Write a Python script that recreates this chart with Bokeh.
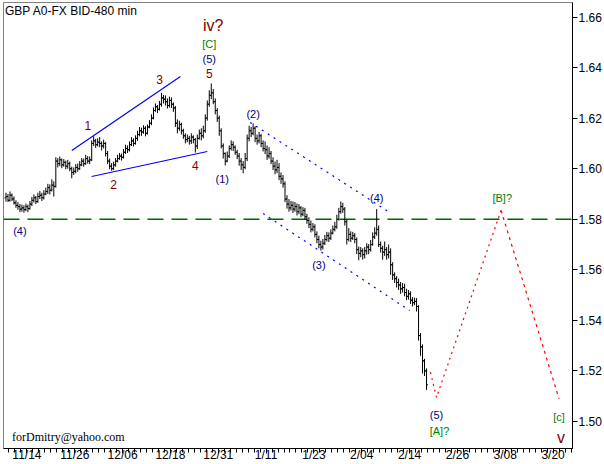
from bokeh.plotting import figure
from bokeh.models import Range1d, FixedTicker, Label, NumeralTickFormatter
from bokeh.embed import file_html
from bokeh.resources import INLINE

title_text = "GBP A0-FX BID-480 min"
credit_text = "forDmitry@yahoo.com"

# 480-minute OHLC bars (3 bars per trading day)
first_open = 1.5885
first_bar_day = -3.5
bars_per_day = 3

bar_close = [
    1.5890, 1.5875, 1.5895, 1.5880, 1.5865, 1.5855, 1.5850, 1.5840, 1.5845, 1.5838,
    1.5850, 1.5842, 1.5860, 1.5875, 1.5885, 1.5870, 1.5890, 1.5895, 1.5885, 1.5900,
    1.5910, 1.5925, 1.5915, 1.5935, 1.5930, 1.6030, 1.6020, 1.6035, 1.6015, 1.6025,
    1.6010, 1.6020, 1.6000, 1.5985, 1.5990, 1.6005, 1.6000, 1.6015, 1.6030, 1.6020,
    1.6040, 1.6030, 1.6035, 1.6100, 1.6110, 1.6095, 1.6105, 1.6100, 1.6090, 1.6100,
    1.6060, 1.6030, 1.6010, 1.6000, 1.6015, 1.6030, 1.6040, 1.6050, 1.6045, 1.6065,
    1.6080, 1.6075, 1.6095, 1.6110, 1.6100, 1.6120, 1.6135, 1.6150, 1.6145, 1.6160,
    1.6140, 1.6165, 1.6180, 1.6200, 1.6230, 1.6245, 1.6235, 1.6255, 1.6280, 1.6275,
    1.6265, 1.6250, 1.6270, 1.6255, 1.6240, 1.6180, 1.6160, 1.6175, 1.6150, 1.6130,
    1.6115, 1.6120, 1.6110, 1.6125, 1.6115, 1.6090, 1.6120, 1.6140, 1.6130, 1.6150,
    1.6200, 1.6255, 1.6290, 1.6300, 1.6265, 1.6230, 1.6200, 1.6150, 1.6090, 1.6060,
    1.6030, 1.6050, 1.6080, 1.6095, 1.6085, 1.6065, 1.6050, 1.6030, 1.6015, 1.6005,
    1.6040, 1.6120, 1.6150, 1.6140, 1.6160, 1.6120, 1.6110, 1.6130, 1.6100, 1.6080,
    1.6075, 1.6050, 1.6060, 1.6030, 1.6010, 1.5995, 1.6005, 1.5970, 1.5960, 1.5940,
    1.5880, 1.5860, 1.5845, 1.5855, 1.5840, 1.5850, 1.5830, 1.5845, 1.5820, 1.5835,
    1.5810, 1.5795, 1.5780, 1.5760, 1.5770, 1.5740, 1.5720, 1.5700, 1.5690, 1.5705,
    1.5720, 1.5735, 1.5725, 1.5745, 1.5760, 1.5770, 1.5800, 1.5830, 1.5850, 1.5840,
    1.5790, 1.5720, 1.5740, 1.5725, 1.5735, 1.5720, 1.5680, 1.5665, 1.5675, 1.5660,
    1.5675, 1.5690, 1.5680, 1.5700, 1.5730, 1.5745, 1.5760, 1.5700, 1.5685, 1.5670,
    1.5680, 1.5660, 1.5670, 1.5620, 1.5580, 1.5565, 1.5550, 1.5540, 1.5525, 1.5530,
    1.5510, 1.5495, 1.5505, 1.5480, 1.5470, 1.5475, 1.5455, 1.5340, 1.5295, 1.5240,
    1.5200, 1.5145,
]
bar_high = [
    1.5905, 1.5900, 1.5910, 1.5902, 1.5890, 1.5875, 1.5868, 1.5860, 1.5858, 1.5855,
    1.5862, 1.5858, 1.5872, 1.5888, 1.5898, 1.5892, 1.5905, 1.5912, 1.5905, 1.5915,
    1.5925, 1.5940, 1.5938, 1.5958, 1.5950, 1.6045, 1.6042, 1.6048, 1.6040, 1.6038,
    1.6032, 1.6035, 1.6028, 1.6008, 1.6005, 1.6018, 1.6020, 1.6030, 1.6042, 1.6040,
    1.6055, 1.6050, 1.6048, 1.6112, 1.6128, 1.6118, 1.6120, 1.6125, 1.6108, 1.6115,
    1.6105, 1.6070, 1.6040, 1.6022, 1.6028, 1.6042, 1.6055, 1.6062, 1.6060, 1.6078,
    1.6095, 1.6092, 1.6108, 1.6125, 1.6120, 1.6132, 1.6150, 1.6165, 1.6162, 1.6172,
    1.6168, 1.6175, 1.6192, 1.6215, 1.6242, 1.6258, 1.6252, 1.6268, 1.6300, 1.6292,
    1.6290, 1.6278, 1.6285, 1.6282, 1.6262, 1.6248, 1.6195, 1.6190, 1.6182, 1.6158,
    1.6140, 1.6135, 1.6130, 1.6140, 1.6132, 1.6122, 1.6135, 1.6155, 1.6160, 1.6170,
    1.6215, 1.6270, 1.6310, 1.6337, 1.6315, 1.6278, 1.6240, 1.6210, 1.6160, 1.6100,
    1.6065, 1.6068, 1.6092, 1.6112, 1.6108, 1.6092, 1.6075, 1.6062, 1.6042, 1.6030,
    1.6062, 1.6135, 1.6170, 1.6165, 1.6179, 1.6168, 1.6135, 1.6145, 1.6138, 1.6112,
    1.6108, 1.6092, 1.6085, 1.6070, 1.6045, 1.6028, 1.6035, 1.6022, 1.5985, 1.5975,
    1.5950, 1.5895, 1.5880, 1.5872, 1.5870, 1.5868, 1.5862, 1.5860, 1.5852, 1.5848,
    1.5845, 1.5822, 1.5808, 1.5795, 1.5785, 1.5780, 1.5752, 1.5735, 1.5715, 1.5722,
    1.5738, 1.5750, 1.5748, 1.5760, 1.5775, 1.5790, 1.5818, 1.5845, 1.5870, 1.5865,
    1.5848, 1.5798, 1.5765, 1.5752, 1.5750, 1.5745, 1.5728, 1.5692, 1.5690, 1.5685,
    1.5690, 1.5705, 1.5702, 1.5718, 1.5748, 1.5768, 1.5840, 1.5775, 1.5712, 1.5695,
    1.5712, 1.5690, 1.5700, 1.5685, 1.5630, 1.5590, 1.5575, 1.5565, 1.5552, 1.5548,
    1.5545, 1.5525, 1.5520, 1.5515, 1.5492, 1.5490, 1.5488, 1.5460, 1.5350, 1.5305,
    1.5248, 1.5210,
]
bar_low = [
    1.5870, 1.5868, 1.5870, 1.5872, 1.5858, 1.5845, 1.5838, 1.5828, 1.5830, 1.5826,
    1.5832, 1.5828, 1.5838, 1.5852, 1.5866, 1.5860, 1.5865, 1.5880, 1.5872, 1.5878,
    1.5895, 1.5900, 1.5898, 1.5910, 1.5890, 1.5925, 1.6005, 1.6010, 1.6002, 1.6008,
    1.5998, 1.6000, 1.5990, 1.5962, 1.5975, 1.5982, 1.5988, 1.5995, 1.6010, 1.6008,
    1.6015, 1.6020, 1.6018, 1.6030, 1.6090, 1.6082, 1.6088, 1.6085, 1.6072, 1.6080,
    1.6048, 1.6018, 1.5998, 1.5992, 1.5995, 1.6008, 1.6025, 1.6035, 1.6032, 1.6040,
    1.6058, 1.6062, 1.6068, 1.6090, 1.6088, 1.6095, 1.6110, 1.6128, 1.6130, 1.6138,
    1.6128, 1.6135, 1.6160, 1.6172, 1.6195, 1.6225, 1.6220, 1.6230, 1.6245, 1.6258,
    1.6250, 1.6238, 1.6242, 1.6240, 1.6225, 1.6165, 1.6140, 1.6150, 1.6135, 1.6118,
    1.6100, 1.6105, 1.6095, 1.6098, 1.6100, 1.6064, 1.6078, 1.6115, 1.6112, 1.6120,
    1.6142, 1.6190, 1.6245, 1.6275, 1.6255, 1.6215, 1.6185, 1.6130, 1.6080, 1.6040,
    1.6013, 1.6025, 1.6042, 1.6072, 1.6070, 1.6055, 1.6038, 1.6012, 1.5995, 1.5982,
    1.5998, 1.6030, 1.6108, 1.6125, 1.6132, 1.6105, 1.6095, 1.6100, 1.6085, 1.6068,
    1.6058, 1.6035, 1.6040, 1.6018, 1.5995, 1.5978, 1.5982, 1.5955, 1.5940, 1.5925,
    1.5868, 1.5842, 1.5830, 1.5835, 1.5825, 1.5830, 1.5815, 1.5820, 1.5808, 1.5812,
    1.5798, 1.5782, 1.5765, 1.5748, 1.5752, 1.5728, 1.5705, 1.5685, 1.5676, 1.5680,
    1.5698, 1.5712, 1.5710, 1.5718, 1.5740, 1.5752, 1.5762, 1.5795, 1.5822, 1.5825,
    1.5775, 1.5700, 1.5712, 1.5710, 1.5718, 1.5705, 1.5662, 1.5638, 1.5650, 1.5640,
    1.5645, 1.5660, 1.5662, 1.5672, 1.5695, 1.5722, 1.5735, 1.5690, 1.5668, 1.5640,
    1.5655, 1.5640, 1.5645, 1.5580, 1.5560, 1.5548, 1.5530, 1.5520, 1.5505, 1.5510,
    1.5495, 1.5480, 1.5482, 1.5465, 1.5455, 1.5460, 1.5435, 1.5320, 1.5260, 1.5190,
    1.5180, 1.5125,
]

# x axis: trading-day index, 11/14 = day 0
tick_days = [0, 8, 16, 24, 32, 40, 48, 56, 64, 72, 80, 88]
tick_labels = ["11/14", "11/26", "12/06", "12/18", "12/31", "1/11",
               "1/23", "2/04", "2/14", "2/26", "3/08", "3/20"]
minor_days = list(range(-3, 92))
price_ticks = [1.50, 1.52, 1.54, 1.56, 1.58, 1.60, 1.62, 1.64, 1.66]

level_price = 1.58

wedge_upper_days = [7.5, 25.67]
wedge_upper_prices = [1.6072, 1.6365]
wedge_lower_days = [10.83, 30.17]
wedge_lower_prices = [1.5969, 1.6068]
channel_upper_days = [37.33, 60.67]
channel_upper_prices = [1.6183, 1.5827]
channel_lower_days = [39.5, 64.0]
channel_lower_prices = [1.5823, 1.5439]
forecast_up_days = [67.5, 68.5, 79.3]
forecast_up_prices = [1.5195, 1.5095, 1.5835]
forecast_down_days = [79.3, 89.0]
forecast_down_prices = [1.5835, 1.5090]

MAROON = "#800000"
NAVY = "#000080"
GREEN = "#008000"
wave_labels = [
    ("1", 10.17, 1.6171, MAROON, "12px"),
    ("2", 14.5, 1.5937, MAROON, "12px"),
    ("3", 22.17, 1.6353, MAROON, "12px"),
    ("4", 28.17, 1.6013, MAROON, "12px"),
    ("5", 30.5, 1.6377, MAROON, "12px"),
    ("(5)", 30.5, 1.6432, NAVY, "11px"),
    ("[C]", 30.5, 1.6495, GREEN, "11px"),
    ("iv?", 31.17, 1.6566, MAROON, "16px"),
    ("(1)", 32.67, 1.5961, NAVY, "11px"),
    ("(2)", 37.83, 1.6218, NAVY, "11px"),
    ("(3)", 48.83, 1.5621, NAVY, "11px"),
    ("(4)", 58.5, 1.5886, NAVY, "11px"),
    ("(4)", -1.17, 1.5752, NAVY, "11px"),
    ("[B]?", 79.5, 1.5886, GREEN, "11px"),
    ("(5)", 68.5, 1.5025, NAVY, "11px"),
    ("[A]?", 69.0, 1.4962, GREEN, "11px"),
    ("[c]", 89.0, 1.5016, GREEN, "11px"),
    ("v", 89.33, 1.4937, MAROON, "16px"),
]

n = len(bar_close)
days = [first_bar_day + i / bars_per_day for i in range(n)]
opens = [first_open] + bar_close[:-1]
tick_w = 0.25

p = figure(width=604, height=464, output_backend="svg", toolbar_location=None,
           y_axis_location="right",
           x_range=Range1d(-3.9167, 91.25), y_range=Range1d(1.48932, 1.665736),
           min_border_left=3, min_border_right=30, min_border_top=2, min_border_bottom=12,
           background_fill_color="white", border_fill_color="white")
p.grid.visible = False
p.outline_line_color = "#808080"

# axes
xa = p.xaxis[0]
xa.ticker = FixedTicker(ticks=tick_days, minor_ticks=minor_days)
xa.major_label_overrides = {d: lab for d, lab in zip(tick_days, tick_labels)}
xa.major_tick_out = 5
xa.major_tick_in = 0
xa.minor_tick_out = 4
xa.minor_tick_in = 0
xa.major_label_standoff = -6
ya = p.yaxis[0]
ya.ticker = FixedTicker(ticks=price_ticks)
ya.formatter = NumeralTickFormatter(format="0.00")
ya.major_tick_out = 5
ya.major_tick_in = 0
ya.major_label_standoff = 1
for ax in (xa, ya):
    ax.axis_line_color = "black"
    ax.major_tick_line_color = "black"
    ax.major_label_text_font = "Liberation Sans"
    ax.major_label_text_font_size = "12px"
    ax.major_label_text_color = "black"
xa.minor_tick_line_color = "black"
ya.minor_tick_line_color = None

# horizontal level
p.line([p.x_range.start, p.x_range.end], [level_price, level_price],
       line_color="#006400", line_width=1.5, line_dash="16 8")

# trend lines
p.line(wedge_upper_days, wedge_upper_prices, line_color="#0000ff", line_width=1.2)
p.line(wedge_lower_days, wedge_lower_prices, line_color="#0000ff", line_width=1.2)
p.line(channel_upper_days, channel_upper_prices, line_color="#0000ff", line_width=1.2, line_dash="2 5")
p.line(channel_lower_days, channel_lower_prices, line_color="#0000ff", line_width=1.2, line_dash="2 5")

# bars
p.segment(x0=days, y0=bar_low, x1=days, y1=bar_high, line_color="black", line_width=1)
p.segment(x0=[d - tick_w for d in days], y0=opens, x1=days, y1=opens, line_color="black", line_width=1)
p.segment(x0=days, y0=bar_close, x1=[d + tick_w for d in days], y1=bar_close, line_color="black", line_width=1)

# forecast
p.line(forecast_up_days, forecast_up_prices, line_color="#ff0000", line_width=1.2, line_dash="2 4")
p.line(forecast_down_days, forecast_down_prices, line_color="#ff0000", line_width=1.2, line_dash="3 4")

for txt, x, y, col, size in wave_labels:
    p.add_layout(Label(x=x, y=y, text=txt, text_color=col, text_font="Liberation Sans",
                       text_font_size=size, text_align="center", text_baseline="middle"))

p.add_layout(Label(x=-3.667, y=1.6622, text=title_text, text_color="black",
                   text_font="Liberation Sans", text_font_size="12px",
                   text_align="left", text_baseline="middle"))
p.add_layout(Label(x=-2.5, y=1.4937, text=credit_text, text_color="black",
                   text_font="Liberation Serif", text_font_size="12px",
                   text_align="left", text_baseline="middle"))

open("out.html", "w").write(file_html(p, INLINE))
